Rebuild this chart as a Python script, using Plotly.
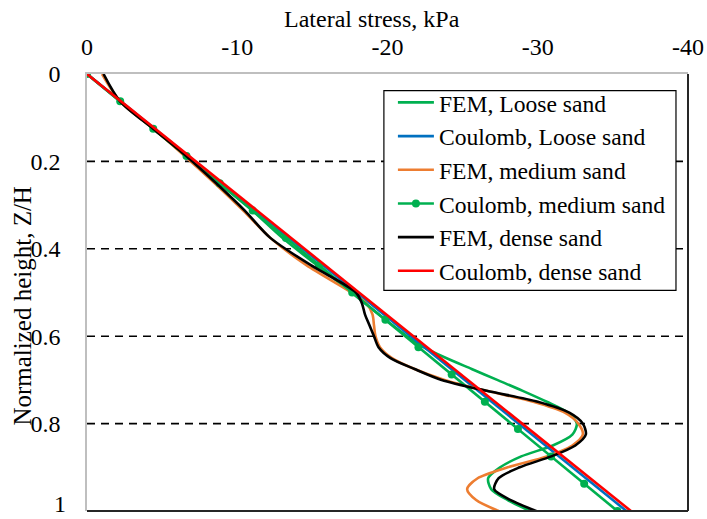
import plotly.graph_objects as go

# Normalized height Z/H and lateral stress (kPa) for each series
z_fem_loose = [0, 0.0625, 0.125, 0.1875, 0.25, 0.3125, 0.375, 0.4375, 0.5, 0.55, 0.6,
               0.625, 0.65, 0.675, 0.7, 0.725, 0.75, 0.775, 0.8, 0.825, 0.85, 0.875,
               0.9, 0.925, 0.95, 0.975, 1.0]
fem_loose = [0, -2.2, -4.4, -6.6, -8.8, -11.0, -13.0, -15.3, -17.6, -19.4, -21.3,
             -22.4, -23.9, -25.6, -27.3, -29.0, -30.6, -32.0, -32.6, -32.3, -31.0, -28.9,
             -27.5, -26.7, -26.9, -28.0, -29.5]

z_fem_medium = [0, 0.0625, 0.125, 0.1875, 0.25, 0.3125, 0.375, 0.4375, 0.5, 0.525, 0.55,
                0.575, 0.6, 0.625, 0.65, 0.675, 0.7, 0.725, 0.75, 0.775, 0.8, 0.825, 0.85,
                0.875, 0.9, 0.925, 0.95, 0.975, 1.0]
fem_medium = [-1.0, -2.2, -4.4, -6.5, -8.5, -10.4, -12.2, -14.6, -17.6, -18.6, -19.0,
              -19.1, -19.2, -19.5, -20.3, -21.8, -23.8, -26.6, -29.7, -31.8, -32.7, -33.0,
              -32.3, -30.6, -28.0, -26.0, -25.3, -25.9, -27.4]

z_fem_dense = [0, 0.0625, 0.125, 0.1875, 0.25, 0.3125, 0.375, 0.4375, 0.5, 0.525, 0.55,
               0.575, 0.6, 0.625, 0.65, 0.675, 0.7, 0.725, 0.75, 0.775, 0.8, 0.825, 0.85,
               0.875, 0.9, 0.925, 0.95, 0.975, 1.0]
fem_dense = [-1.1, -2.2, -4.4, -6.6, -8.6, -10.5, -12.2, -14.9, -17.9, -18.3, -18.5,
             -18.8, -19.1, -19.4, -20.2, -21.8, -23.6, -26.6, -30.0, -32.1, -33.0, -33.2,
             -32.5, -30.9, -28.8, -27.4, -27.1, -28.2, -29.9]

z_coulomb_medium = [0, 0.0625, 0.125, 0.1875, 0.25, 0.3125, 0.375, 0.4375, 0.5,
                    0.5625, 0.625, 0.6875, 0.75, 0.8125, 0.875, 0.9375, 1.0]
coulomb_medium = [0, -2.21, -4.41, -6.62, -8.83, -11.03, -13.24, -15.44, -17.65,
                  -19.86, -22.06, -24.27, -26.48, -28.68, -30.89, -33.09, -35.3]

z_coulomb = [0, 1.0]
coulomb_loose = [0, -35.9]
coulomb_dense = [0, -36.2]

x_ticks = [0, -10, -20, -30, -40]
x_tick_labels = ["0", "-10", "-20", "-30", "-40"]
y_ticks = [0, 0.2, 0.4, 0.6, 0.8, 1]
y_tick_labels = ["0", "0.2", "0.4", "0.6", "0.8", "1"]
grid_levels = [0.2, 0.4, 0.6, 0.8]

GREEN = "#00B050"
BLUE = "#0070C0"
ORANGE = "#ED7D31"
BLACK = "#000000"
RED = "#FF0000"
FONT = "Liberation Serif"
LW = 2.6
SPLINE = dict(shape="spline", smoothing=0.8)

fig = go.Figure()
fig.add_trace(go.Scatter(x=fem_loose, y=z_fem_loose, mode="lines", name="FEM, Loose sand",
                         line=dict(color=GREEN, width=LW, **SPLINE)))
fig.add_trace(go.Scatter(x=coulomb_loose, y=z_coulomb, mode="lines", name="Coulomb, Loose sand",
                         line=dict(color=BLUE, width=LW)))
fig.add_trace(go.Scatter(x=fem_medium, y=z_fem_medium, mode="lines", name="FEM, medium sand",
                         line=dict(color=ORANGE, width=LW, **SPLINE)))
fig.add_trace(go.Scatter(x=coulomb_medium, y=z_coulomb_medium, mode="lines+markers",
                         name="Coulomb, medium sand",
                         line=dict(color=GREEN, width=LW),
                         marker=dict(color=GREEN, size=8)))
fig.add_trace(go.Scatter(x=fem_dense, y=z_fem_dense, mode="lines", name="FEM, dense sand",
                         line=dict(color=BLACK, width=LW, **SPLINE)))
fig.add_trace(go.Scatter(x=coulomb_dense, y=z_coulomb, mode="lines", name="Coulomb, dense sand",
                         line=dict(color=RED, width=LW)))

# dashed horizontal gridlines
for g in grid_levels:
    fig.add_shape(type="line", xref="paper", yref="y", x0=0, x1=1, y0=g, y1=g,
                  line=dict(color="black", width=1.6, dash="8px,6px"), layer="below")

# plot-area frame: dark bottom and right edges
fig.add_shape(type="line", xref="paper", yref="paper", x0=0, x1=1, y0=0, y1=0,
              line=dict(color="#262626", width=2))
fig.add_shape(type="line", xref="paper", yref="paper", x0=1, x1=1, y0=0, y1=1,
              line=dict(color="#262626", width=2))

# legend frame (white box with black outline)
fig.add_shape(type="rect", xref="paper", yref="paper", x0=0.494, x1=0.980, y0=0.505, y1=0.962,
              line=dict(color="black", width=1.2), fillcolor="white", layer="above")

# axis titles
fig.add_annotation(text="Lateral stress, kPa", xref="paper", yref="paper",
                   x=0.474, y=1, yshift=55, showarrow=False,
                   xanchor="center", yanchor="middle", font=dict(size=24))
fig.add_annotation(text="Normalized height, Z/H", xref="paper", yref="paper",
                   x=0, xshift=-64, y=0.47, textangle=-90, showarrow=False,
                   xanchor="center", yanchor="middle", font=dict(size=25))

# bottom y tick label, kept inside the page
fig.add_annotation(text=y_tick_labels[-1], xref="paper", yref="y",
                   x=0, xshift=-20, y=y_ticks[-1], yshift=-7, showarrow=False,
                   xanchor="right", yanchor="bottom", borderpad=0, font=dict(size=24))

fig.update_layout(
    width=707, height=519,
    margin=dict(l=87, r=19, t=74, b=8, autoexpand=False),
    paper_bgcolor="white", plot_bgcolor="white",
    font=dict(family=FONT, size=24, color="#000000"),
    showlegend=True,
    legend=dict(x=0.509, y=0.985, xanchor="left", yanchor="top",
                bgcolor="rgba(0,0,0,0)", borderwidth=0, itemwidth=36,
                font=dict(family=FONT, size=23.6), tracegroupgap=0),
    xaxis=dict(side="top", range=[0, -40], tickvals=x_ticks, ticktext=x_tick_labels,
               showgrid=False, zeroline=False, showline=True, linecolor="#BFBFBF",
               linewidth=1.5, ticks="", ticklabelstandoff=8, ticklabeloverflow="allow",
               automargin=False),
    yaxis=dict(range=[1, 0], tickvals=y_ticks[:-1], ticktext=y_tick_labels[:-1],
               showgrid=False, zeroline=False, showline=True, linecolor="#BFBFBF",
               linewidth=1.5, ticks="", ticklabelstandoff=20, ticklabeloverflow="allow",
               automargin=False),
)

fig.write_html("out.html")
